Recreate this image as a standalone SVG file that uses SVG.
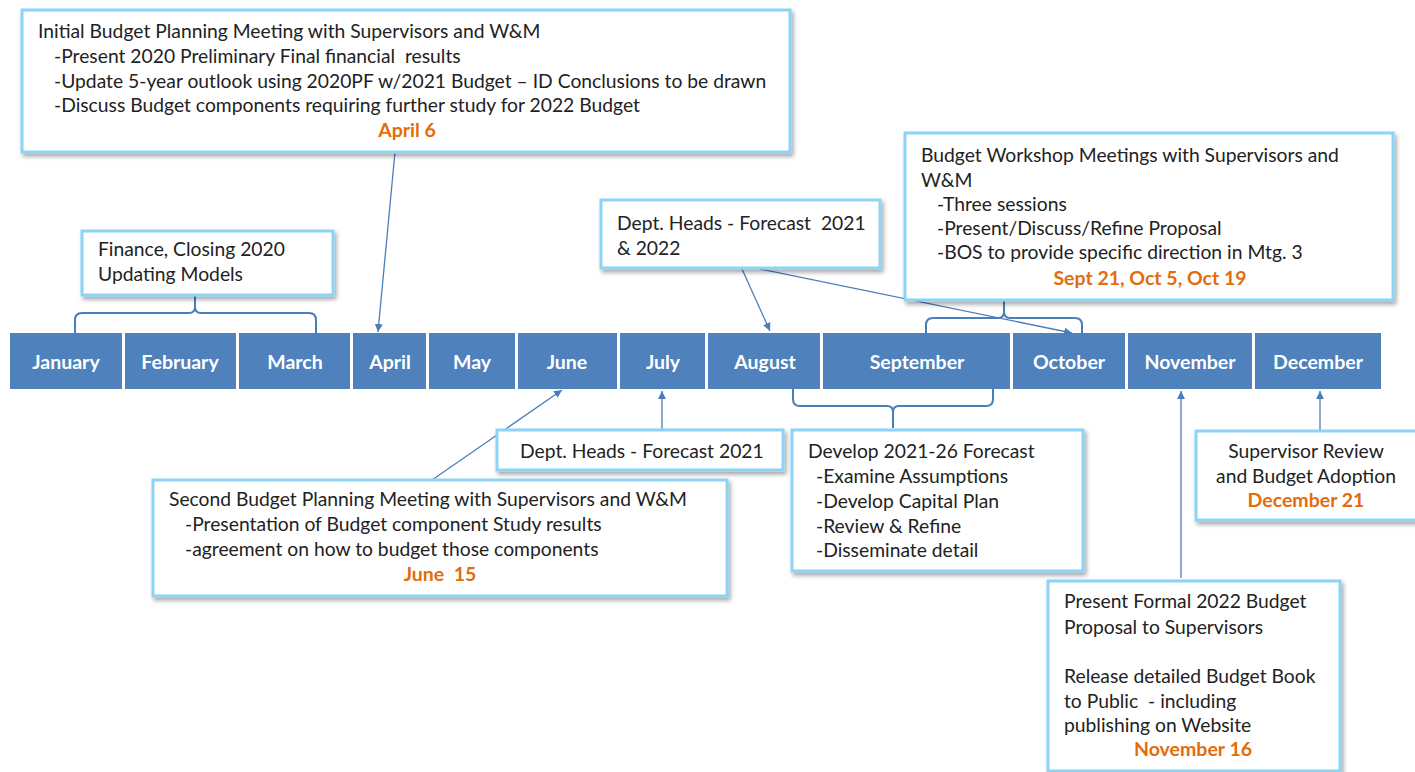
<svg xmlns="http://www.w3.org/2000/svg" width="1415" height="772" viewBox="0 0 1415 772">
<style>
.month{fill:#4F81BD}
.mlabel{font-family:Lato,"Liberation Sans",sans-serif;font-weight:bold;font-size:19.5px;fill:#fff;text-anchor:middle}
.box{fill:#fff;stroke:#8DD3F5;stroke-width:3;filter:url(#sh)}
.t{font-family:Lato,"Liberation Sans",sans-serif;font-size:19.3px;fill:#222;white-space:pre}
.d{font-family:Lato,"Liberation Sans",sans-serif;font-size:19.5px;font-weight:bold;fill:#E46C0A;text-anchor:middle;white-space:pre}
.br{fill:none;stroke:#4A7EBB;stroke-width:2}
.cn{fill:none;stroke:#4A7EBB;stroke-width:1.3;marker-end:url(#ah)}
</style>
<defs>
<filter id="sh" x="-5%" y="-10%" width="115%" height="130%">
<feDropShadow dx="2" dy="3" stdDeviation="2" flood-color="#000" flood-opacity="0.35"/>
</filter>
<marker id="ah" viewBox="0 0 10 10" refX="10" refY="5" markerWidth="8" markerHeight="8" markerUnits="userSpaceOnUse" orient="auto">
<path d="M0,0 L10,5 L0,10 z" fill="#4A7EBB"/>
</marker>
</defs>
<rect width="1415" height="772" fill="#fff"/>

<g id="timeline">
<rect class="month" x="10" y="333" width="112" height="56"/>
<rect class="month" x="125" y="333" width="111" height="56"/>
<rect class="month" x="239" y="333" width="111" height="56"/>
<rect class="month" x="353" y="333" width="73" height="56"/>
<rect class="month" x="429" y="333" width="86" height="56"/>
<rect class="month" x="518" y="333" width="99" height="56"/>
<rect class="month" x="620" y="333" width="85" height="56"/>
<rect class="month" x="708" y="333" width="112" height="56"/>
<rect class="month" x="823" y="333" width="187" height="56"/>
<rect class="month" x="1013" y="333" width="112" height="56"/>
<rect class="month" x="1128" y="333" width="124" height="56"/>
<rect class="month" x="1255" y="333" width="126" height="56"/>
<text class="mlabel" x="66" y="369">January</text>
<text class="mlabel" x="180" y="369">February</text>
<text class="mlabel" x="295" y="369">March</text>
<text class="mlabel" x="390" y="369">April</text>
<text class="mlabel" x="472" y="369">May</text>
<text class="mlabel" x="567" y="369">June</text>
<text class="mlabel" x="663" y="369">July</text>
<text class="mlabel" x="765" y="369">August</text>
<text class="mlabel" x="917" y="369">September</text>
<text class="mlabel" x="1069" y="369">October</text>
<text class="mlabel" x="1190" y="369">November</text>
<text class="mlabel" x="1318" y="369">December</text>
</g>

<g id="connectors">
<path class="br" d="M75,333 V320 Q75,313 82,313 H189 Q195,313 195,307 V296 M195,307 Q195,313 201,313 H309 Q316,313 316,320 V333"/>
<path class="br" d="M926,333 V325 Q926,318 933,318 H998 Q1004,318 1004,312 V301 M1004,312 Q1004,318 1010,318 H1075 Q1082,318 1082,325 V333"/>
<path class="br" d="M793,389 V399 Q793,406 800,406 H887 Q893,406 893,412 V428 M893,412 Q893,406 899,406 H986 Q993,406 993,399 V389"/>
<line class="cn" x1="395" y1="152" x2="378" y2="332"/>
<line class="cn" x1="742" y1="269" x2="770" y2="331"/>
<line class="cn" x1="760" y1="269" x2="1072" y2="333"/>
<line class="cn" x1="432" y1="480" x2="562" y2="390"/>
<line class="cn" x1="662" y1="430" x2="662" y2="391"/>
<line class="cn" x1="1181" y1="578" x2="1181" y2="391"/>
<line class="cn" x1="1320" y1="431" x2="1320" y2="391"/>
</g>

<g id="node-initial">
<rect class="box" x="22" y="10" width="768" height="142"/>
<text class="t" x="38" y="38">Initial Budget Planning Meeting with Supervisors and W&amp;M</text>
<text class="t" x="54" y="63">-Present 2020 Preliminary Final financial  results</text>
<text class="t" x="54" y="88">-Update 5-year outlook using 2020PF w/2021 Budget – ID Conclusions to be drawn</text>
<text class="t" x="54" y="112">-Discuss Budget components requiring further study for 2022 Budget</text>
<text class="d" x="407" y="137">April 6</text>
</g>

<g id="node-finance">
<rect class="box" x="82" y="231" width="251" height="64"/>
<text class="t" x="98" y="256">Finance, Closing 2020</text>
<text class="t" x="98" y="281">Updating Models</text>
</g>

<g id="node-depthead2022">
<rect class="box" x="601" y="200" width="279" height="68"/>
<text class="t" x="617" y="230">Dept. Heads - Forecast  2021</text>
<text class="t" x="617" y="255">&amp; 2022</text>
</g>

<g id="node-workshop">
<rect class="box" x="905" y="133" width="488" height="167"/>
<text class="t" x="921" y="162">Budget Workshop Meetings with Supervisors and</text>
<text class="t" x="921" y="187">W&amp;M</text>
<text class="t" x="937" y="211">-Three sessions</text>
<text class="t" x="937" y="235">-Present/Discuss/Refine Proposal</text>
<text class="t" x="937" y="259">-BOS to provide specific direction in Mtg. 3</text>
<text class="d" x="1150" y="285">Sept 21, Oct 5, Oct 19</text>
</g>

<g id="node-depthead2021">
<rect class="box" x="497" y="430" width="286" height="40"/>
<text class="t" x="520" y="458">Dept. Heads - Forecast 2021</text>
</g>

<g id="node-second">
<rect class="box" x="153" y="480" width="574" height="116"/>
<text class="t" x="169" y="506">Second Budget Planning Meeting with Supervisors and W&amp;M</text>
<text class="t" x="185" y="531">-Presentation of Budget component Study results</text>
<text class="t" x="185" y="556">-agreement on how to budget those components</text>
<text class="d" x="440" y="581">June  15</text>
</g>

<g id="node-develop">
<rect class="box" x="792" y="430" width="291" height="141"/>
<text class="t" x="808" y="458">Develop 2021-26 Forecast</text>
<text class="t" x="816" y="483">-Examine Assumptions</text>
<text class="t" x="816" y="508">-Develop Capital Plan</text>
<text class="t" x="816" y="533">-Review &amp; Refine</text>
<text class="t" x="816" y="557">-Disseminate detail</text>
</g>

<g id="node-adoption">
<rect class="box" x="1196" y="431" width="225" height="89"/>
<text class="t" x="1306" y="458" text-anchor="middle">Supervisor Review</text>
<text class="t" x="1306" y="483" text-anchor="middle">and Budget Adoption</text>
<text class="d" x="1306" y="507">December 21</text>
</g>

<g id="node-proposal">
<rect class="box" x="1048" y="581" width="292" height="190"/>
<text class="t" x="1064" y="608">Present Formal 2022 Budget</text>
<text class="t" x="1064" y="634">Proposal to Supervisors</text>
<text class="t" x="1064" y="683">Release detailed Budget Book</text>
<text class="t" x="1064" y="708">to Public  - including</text>
<text class="t" x="1064" y="732">publishing on Website</text>
<text class="d" x="1193" y="756">November 16</text>
</g>
</svg>
